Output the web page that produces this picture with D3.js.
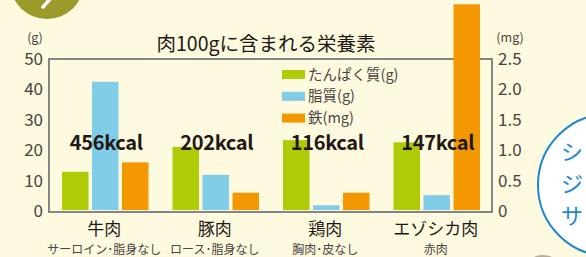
<!DOCTYPE html>
<html><head><meta charset="utf-8">
<script src="https://cdn.jsdelivr.net/npm/d3@7"></script>
<style>
html,body{margin:0;padding:0;background:#FEFADF;}
svg{display:block;}
text{font-family:"Noto Sans CJK JP","Noto Sans",sans-serif;}
</style></head>
<body>
<svg id="c" width="586" height="257"></svg>
<script>
const categories = ["牛肉","豚肉","鶏肉","エゾシカ肉"];
const subLabels = ["サーロイン･脂身なし","ロース･脂身なし","胸肉･皮なし","赤肉"];
const kcal = ["456kcal","202kcal","116kcal","147kcal"];
const protein = [12.9, 21.1, 23.3, 22.6];
const fat = [42.5, 11.9, 1.9, 5.2];
const iron = [0.8, 0.3, 0.3, 3.4];
const seriesNames = ["たんぱく質(g)","脂質(g)","鉄(mg)"];
const seriesColors = ["#AFCB08","#7FCDE6","#F39800"];
const leftTicks = [0,10,20,30,40,50];
const rightTicks = [0,0.5,1.0,1.5,2.0,2.5];

const svg = d3.select("#c");
const L=50, R=492, T=59, B=211;

// decorations
svg.append("circle").attr("cx",47).attr("cy",-18).attr("r",37).attr("fill","#9B9B2B");
svg.append("line").attr("x1",43).attr("y1",7).attr("x2",51).attr("y2",-2)
  .attr("stroke","#fff").attr("stroke-width",3.5).attr("stroke-linecap","round");
svg.append("circle").attr("cx",609).attr("cy",185).attr("r",71)
  .attr("fill","#FFFFFF").attr("stroke","#1E88CF").attr("stroke-width",2);
["シ","ジ","サ"].forEach((t,i)=>{
  svg.append("text").attr("x",561).attr("y",160+i*32).attr("font-size",22)
    .attr("fill","#1E88CF").text(t);
});
svg.append("ellipse").attr("cx",543).attr("cy",262).attr("rx",13).attr("ry",7)
  .attr("fill","#a89680").attr("opacity",0.8);

const x0 = d3.scaleBand().domain(categories).range([L,R]).paddingInner(0).paddingOuter(0);
const x1 = d3.scaleBand().domain(seriesNames).range([0,x0.bandwidth()]).paddingInner(0.117).paddingOuter(0.4);
const yL = d3.scaleLinear().domain([0,50]).range([B,T]);
const yR = d3.scaleLinear().domain([0,2.5]).range([B,T]);

// frame
svg.append("rect").attr("x",L-1).attr("y",T).attr("width",R-L+1).attr("height",B-T+1)
  .attr("fill","none").attr("stroke","#858585").attr("stroke-width",2);

// title
svg.append("text").attr("x",266).attr("y",51).attr("text-anchor","middle")
  .attr("font-size",19.5).attr("fill","#231815").text("肉100gに含まれる栄養素");

// axes
const axL = svg.append("g").attr("transform",`translate(${L},0)`)
  .call(d3.axisLeft(yL).tickValues(leftTicks).tickSize(0).tickPadding(7));
const axR = svg.append("g").attr("transform",`translate(${R},0)`)
  .call(d3.axisRight(yR).tickValues(rightTicks).tickSize(0).tickPadding(6)
  .tickFormat(d=>d===0?"0":d3.format(".1f")(d)));
[axL,axR].forEach(a=>{
  a.select(".domain").remove();
  a.selectAll("text").attr("font-size",17).attr("fill","#4a4340")
    .attr("font-family","'Noto Sans',sans-serif");
});
svg.append("text").attr("x",35).attr("y",42).attr("text-anchor","middle")
  .attr("font-size",12.5).attr("fill","#4a4340").text("(g)");
svg.append("text").attr("x",510).attr("y",42).attr("text-anchor","middle")
  .attr("font-size",12.5).attr("fill","#4a4340").text("(mg)");

// bars
const data = categories.map((c,i)=>({c, vals:[
  {s:seriesNames[0], v:protein[i], y:yL},
  {s:seriesNames[1], v:fat[i], y:yL},
  {s:seriesNames[2], v:iron[i], y:yR}]}));
const g = svg.selectAll("g.grp").data(data).enter().append("g")
  .attr("transform",d=>`translate(${x0(d.c)},0)`);
g.selectAll("rect").data(d=>d.vals).enter().append("rect")
  .attr("x",d=>x1(d.s)).attr("width",x1.bandwidth())
  .attr("y",d=>d.y(d.v)).attr("height",d=>B-1-d.y(d.v))
  .attr("fill",(d,i)=>seriesColors[i]);

// kcal labels
svg.selectAll("text.kcal").data(categories).enter().append("text")
  .attr("x",d=>x0(d)+x0.bandwidth()/2+1).attr("y",150).attr("text-anchor","middle")
  .attr("font-size",20).attr("font-weight","bold").attr("fill","#231815")
  .attr("font-family","'Noto Sans',sans-serif").attr("letter-spacing",-0.3)
  .text((d,i)=>kcal[i]);

// category labels
svg.selectAll("text.cat").data(categories).enter().append("text")
  .attr("x",d=>x0(d)+x0.bandwidth()/2-1).attr("y",235).attr("text-anchor","middle")
  .attr("font-size",17).attr("fill","#231815").text(d=>d);
svg.selectAll("text.sub").data(categories).enter().append("text")
  .attr("x",d=>x0(d)+x0.bandwidth()/2-1).attr("y",254).attr("text-anchor","middle")
  .attr("font-size",12).attr("fill","#4a4340").text((d,i)=>subLabels[i]);

// legend
const lg = svg.append("g");
seriesNames.forEach((s,i)=>{
  const cy = 74.5 + i*21.8;
  lg.append("rect").attr("x",282).attr("y",cy-4.5).attr("width",23).attr("height",9).attr("fill",seriesColors[i]);
  lg.append("text").attr("x",308).attr("y",cy+5).attr("font-size",14.5).attr("fill","#4a4340").text(s);
});
</script>
</body></html>
